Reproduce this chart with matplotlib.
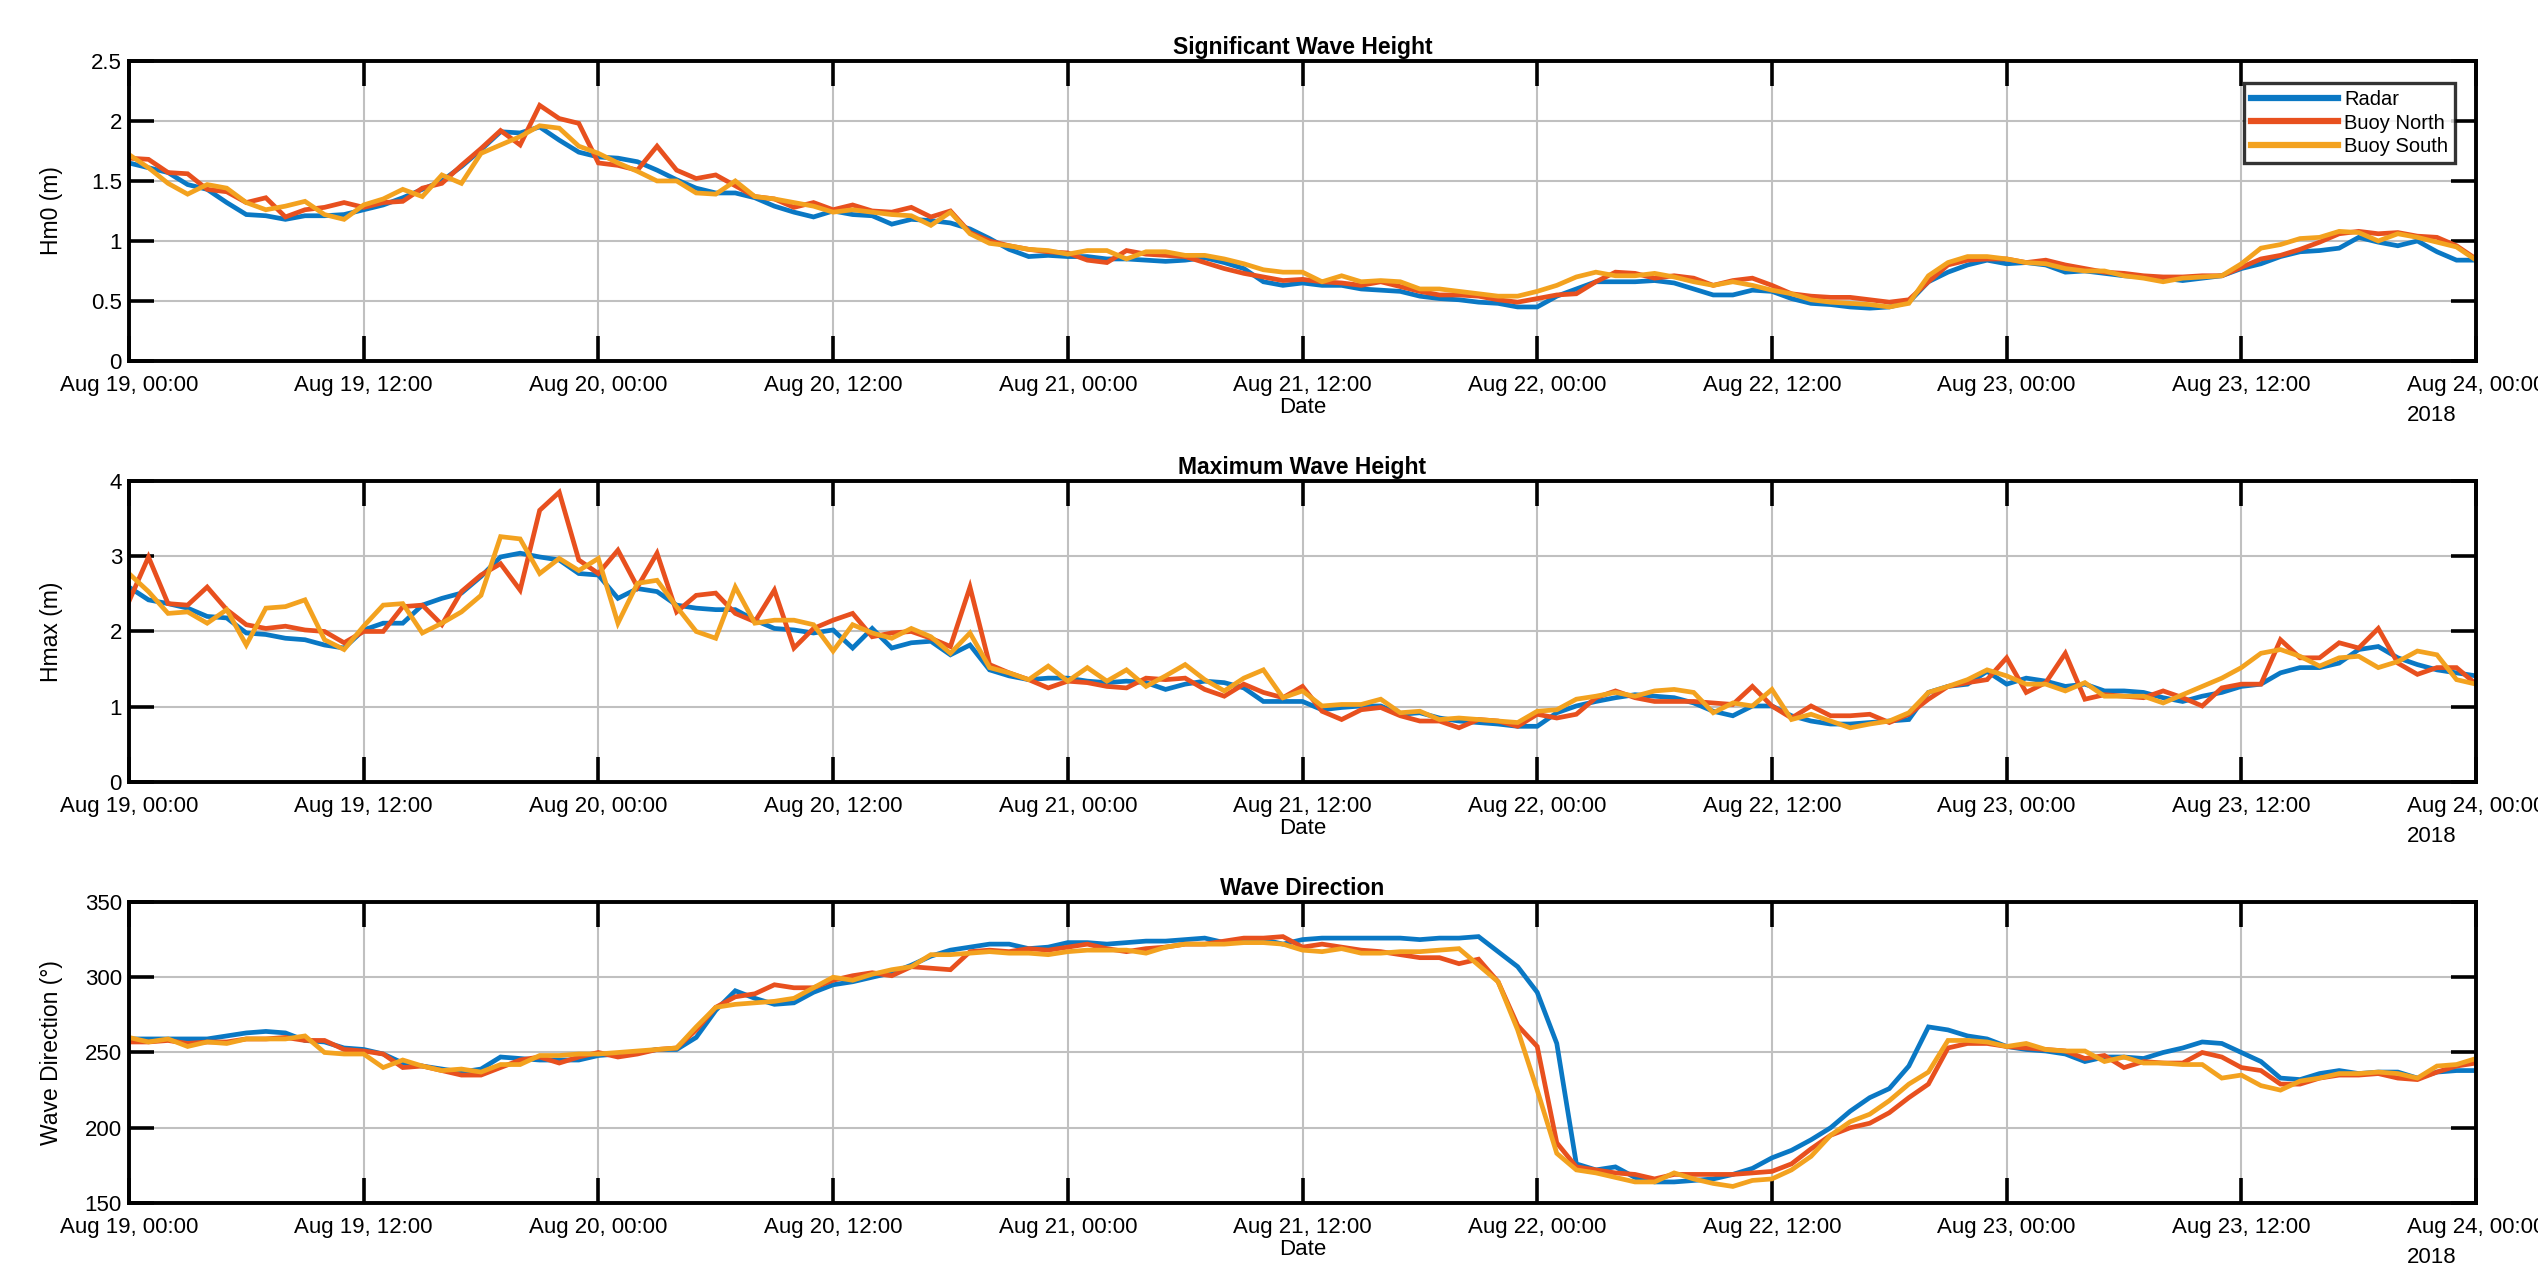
import matplotlib
matplotlib.use('Agg')
import matplotlib.pyplot as plt
import matplotlib.dates as mdates
import pandas as pd

plt.rcParams['font.family'] = ['Liberation Sans', 'DejaVu Sans']

# hourly samples, Aug 19 00:00 -> Aug 24 00:00 2018
times = pd.date_range('2018-08-19 00:00', '2018-08-24 00:00', freq='h')

series_names = ['Radar', 'Buoy North', 'Buoy South']
colors = ['#0a78c4', '#e8501e', '#f3a21f']

hm0_radar = [1.65, 1.61, 1.57, 1.47, 1.43, 1.32, 1.22, 1.21, 1.18, 1.21, 1.21,
             1.22, 1.26, 1.30, 1.36, 1.43, 1.50, 1.62, 1.76, 1.91, 1.90,
             1.95, 1.84, 1.74, 1.70, 1.69, 1.66, 1.59, 1.51, 1.44, 1.40,
             1.40, 1.36, 1.29, 1.24, 1.20, 1.25, 1.22, 1.21, 1.14, 1.18,
             1.17, 1.15, 1.10, 1.02, 0.93, 0.87, 0.88, 0.87, 0.87, 0.85,
             0.85, 0.84, 0.83, 0.84, 0.86, 0.82, 0.77, 0.66, 0.63, 0.65,
             0.63, 0.63, 0.60, 0.59, 0.58, 0.54, 0.52, 0.51, 0.49, 0.48,
             0.45, 0.45, 0.54, 0.60, 0.66, 0.66, 0.66, 0.67, 0.65, 0.60,
             0.55, 0.55, 0.59, 0.58, 0.52, 0.48, 0.47, 0.45, 0.44, 0.45,
             0.49, 0.66, 0.74, 0.80, 0.84, 0.81, 0.82, 0.80, 0.74, 0.75,
             0.73, 0.71, 0.70, 0.69, 0.67, 0.69, 0.71, 0.77, 0.81, 0.87,
             0.91, 0.92, 0.94, 1.03, 0.99, 0.96, 1.00, 0.91, 0.84, 0.84]
hm0_north = [1.69, 1.68, 1.57, 1.56, 1.43, 1.41, 1.32, 1.36, 1.20, 1.26, 1.28,
             1.32, 1.28, 1.32, 1.33, 1.44, 1.48, 1.63, 1.77, 1.92, 1.80,
             2.13, 2.02, 1.98, 1.65, 1.63, 1.59, 1.79, 1.59, 1.52, 1.55,
             1.46, 1.37, 1.35, 1.28, 1.32, 1.26, 1.30, 1.25, 1.24, 1.28,
             1.20, 1.25, 1.07, 1.00, 0.96, 0.93, 0.91, 0.90, 0.84, 0.82,
             0.92, 0.89, 0.88, 0.87, 0.82, 0.77, 0.73, 0.70, 0.67, 0.68,
             0.66, 0.65, 0.63, 0.66, 0.62, 0.58, 0.55, 0.55, 0.54, 0.51,
             0.49, 0.52, 0.55, 0.56, 0.66, 0.74, 0.73, 0.69, 0.71, 0.69,
             0.63, 0.67, 0.69, 0.63, 0.56, 0.54, 0.53, 0.53, 0.51, 0.49,
             0.51, 0.66, 0.80, 0.84, 0.85, 0.85, 0.82, 0.84, 0.80, 0.77,
             0.74, 0.73, 0.71, 0.70, 0.70, 0.71, 0.71, 0.78, 0.85, 0.88,
             0.93, 0.99, 1.06, 1.08, 1.06, 1.07, 1.04, 1.03, 0.96, 0.85]
hm0_south = [1.72, 1.61, 1.48, 1.39, 1.47, 1.44, 1.32, 1.26, 1.29, 1.33, 1.22,
             1.18, 1.30, 1.35, 1.43, 1.37, 1.55, 1.48, 1.73, 1.80, 1.87,
             1.96, 1.94, 1.79, 1.73, 1.65, 1.58, 1.50, 1.50, 1.40, 1.39,
             1.50, 1.37, 1.35, 1.32, 1.29, 1.24, 1.26, 1.24, 1.22, 1.21,
             1.13, 1.24, 1.06, 0.98, 0.96, 0.93, 0.92, 0.89, 0.92, 0.92,
             0.85, 0.91, 0.91, 0.88, 0.88, 0.85, 0.81, 0.76, 0.74, 0.74,
             0.66, 0.71, 0.66, 0.67, 0.66, 0.60, 0.60, 0.58, 0.56, 0.54,
             0.54, 0.58, 0.63, 0.70, 0.74, 0.71, 0.71, 0.73, 0.70, 0.66,
             0.63, 0.66, 0.63, 0.59, 0.56, 0.51, 0.49, 0.48, 0.47, 0.45,
             0.48, 0.71, 0.82, 0.87, 0.87, 0.85, 0.82, 0.81, 0.77, 0.75,
             0.75, 0.71, 0.69, 0.66, 0.69, 0.70, 0.71, 0.81, 0.94, 0.97,
             1.02, 1.03, 1.08, 1.07, 1.00, 1.06, 1.03, 0.99, 0.95, 0.84]

hmax_radar = [2.59, 2.42, 2.37, 2.31, 2.20, 2.18, 1.98, 1.96, 1.91, 1.89, 1.82,
              1.78, 2.02, 2.11, 2.11, 2.35, 2.44, 2.51, 2.73, 2.99, 3.04,
              2.99, 2.95, 2.77, 2.75, 2.44, 2.57, 2.53, 2.35, 2.31, 2.29,
              2.29, 2.15, 2.04, 2.02, 1.98, 2.02, 1.78, 2.04, 1.78, 1.85,
              1.87, 1.69, 1.82, 1.49, 1.41, 1.36, 1.38, 1.38, 1.34, 1.32,
              1.34, 1.32, 1.23, 1.30, 1.34, 1.32, 1.25, 1.07, 1.07, 1.07,
              0.96, 0.99, 1.01, 1.01, 0.90, 0.92, 0.85, 0.81, 0.79, 0.77,
              0.74, 0.74, 0.92, 1.01, 1.07, 1.12, 1.16, 1.14, 1.12, 1.05,
              0.94, 0.88, 1.01, 1.01, 0.88, 0.81, 0.77, 0.77, 0.79, 0.81,
              0.83, 1.19, 1.27, 1.30, 1.47, 1.30, 1.38, 1.34, 1.27, 1.30,
              1.21, 1.21, 1.19, 1.12, 1.07, 1.14, 1.19, 1.27, 1.30, 1.45,
              1.52, 1.52, 1.58, 1.76, 1.80, 1.65, 1.56, 1.49, 1.45, 1.41]
hmax_north = [2.40, 2.99, 2.37, 2.35, 2.59, 2.29, 2.09, 2.04, 2.07, 2.02, 2.00,
              1.85, 2.00, 2.00, 2.33, 2.35, 2.09, 2.53, 2.75, 2.90, 2.55,
              3.61, 3.85, 2.95, 2.77, 3.08, 2.59, 3.04, 2.26, 2.48, 2.51,
              2.24, 2.13, 2.55, 1.78, 2.04, 2.15, 2.24, 1.93, 1.98, 2.00,
              1.91, 1.80, 2.59, 1.56, 1.45, 1.36, 1.25, 1.34, 1.32, 1.27,
              1.25, 1.38, 1.36, 1.38, 1.23, 1.14, 1.30, 1.19, 1.12, 1.27,
              0.94, 0.83, 0.96, 0.99, 0.88, 0.81, 0.81, 0.72, 0.83, 0.81,
              0.74, 0.90, 0.85, 0.90, 1.12, 1.21, 1.12, 1.07, 1.07, 1.07,
              1.05, 1.03, 1.27, 1.01, 0.85, 1.01, 0.88, 0.88, 0.90, 0.79,
              0.90, 1.10, 1.27, 1.32, 1.36, 1.65, 1.19, 1.32, 1.71, 1.10,
              1.16, 1.14, 1.12, 1.21, 1.12, 1.01, 1.25, 1.30, 1.30, 1.89,
              1.65, 1.65, 1.85, 1.78, 2.04, 1.58, 1.43, 1.52, 1.52, 1.30]
hmax_south = [2.77, 2.53, 2.24, 2.26, 2.11, 2.29, 1.82, 2.31, 2.33, 2.42, 1.89,
              1.76, 2.07, 2.35, 2.37, 1.98, 2.11, 2.26, 2.48, 3.26, 3.23,
              2.77, 2.97, 2.81, 2.97, 2.11, 2.64, 2.68, 2.33, 2.00, 1.91,
              2.59, 2.11, 2.15, 2.15, 2.09, 1.74, 2.09, 1.98, 1.91, 2.04,
              1.93, 1.71, 1.98, 1.52, 1.45, 1.36, 1.54, 1.34, 1.52, 1.34,
              1.49, 1.27, 1.41, 1.56, 1.36, 1.21, 1.38, 1.49, 1.12, 1.21,
              1.01, 1.03, 1.03, 1.10, 0.92, 0.94, 0.83, 0.85, 0.83, 0.81,
              0.79, 0.94, 0.96, 1.10, 1.14, 1.19, 1.14, 1.21, 1.23, 1.19,
              0.92, 1.05, 1.01, 1.23, 0.83, 0.90, 0.81, 0.72, 0.77, 0.81,
              0.92, 1.19, 1.27, 1.36, 1.49, 1.41, 1.30, 1.30, 1.21, 1.32,
              1.14, 1.14, 1.14, 1.05, 1.16, 1.27, 1.38, 1.52, 1.71, 1.76,
              1.67, 1.54, 1.65, 1.67, 1.52, 1.60, 1.74, 1.69, 1.36, 1.30]

dir_radar = [259, 259, 259, 259, 259, 261, 263, 264, 263, 258, 257,
             253, 252, 249, 243, 241, 239, 237, 239, 247, 246,
             245, 245, 245, 248, 249, 250, 252, 252, 260, 278,
             291, 286, 282, 283, 290, 295, 297, 300, 303, 308,
             314, 318, 320, 322, 322, 319, 320, 323, 323, 322,
             323, 324, 324, 325, 326, 323, 325, 325, 322, 325,
             326, 326, 326, 326, 326, 325, 326, 326, 327, 317,
             307, 290, 256, 176, 172, 174, 167, 164, 164, 165,
             166, 169, 173, 180, 185, 192, 200, 211, 220, 226,
             241, 267, 265, 261, 259, 254, 252, 251, 249, 244,
             247, 247, 246, 250, 253, 257, 256, 250, 244, 233,
             232, 236, 238, 236, 237, 237, 233, 237, 238, 238]
dir_north = [257, 257, 258, 256, 257, 257, 259, 259, 260, 258, 258,
             252, 251, 249, 240, 241, 238, 235, 235, 240, 245,
             247, 243, 247, 250, 247, 249, 252, 253, 265, 280,
             287, 289, 295, 293, 293, 298, 301, 303, 301, 307,
             306, 305, 317, 318, 317, 319, 318, 320, 322, 319,
             317, 319, 320, 322, 322, 324, 326, 326, 327, 320,
             322, 320, 318, 317, 315, 313, 313, 309, 312, 297,
             268, 254, 190, 174, 172, 170, 169, 166, 169, 169,
             169, 169, 170, 171, 176, 186, 195, 200, 203, 210,
             220, 229, 253, 256, 256, 254, 253, 252, 251, 246,
             248, 240, 244, 243, 243, 250, 247, 240, 238, 229,
             229, 233, 235, 235, 236, 233, 232, 237, 241, 243]
dir_south = [260, 257, 259, 254, 257, 256, 259, 259, 259, 261, 250,
             249, 249, 240, 245, 241, 238, 239, 237, 242, 242,
             248, 248, 249, 249, 250, 251, 252, 253, 267, 280,
             282, 283, 284, 286, 293, 300, 298, 302, 305, 307,
             315, 315, 316, 317, 316, 316, 315, 317, 318, 318,
             318, 316, 320, 322, 322, 322, 323, 323, 322, 318,
             317, 319, 316, 316, 317, 317, 318, 319, 308, 297,
             265, 225, 183, 172, 170, 167, 164, 164, 170, 166,
             163, 161, 165, 166, 172, 181, 195, 204, 209, 218,
             229, 237, 258, 258, 257, 254, 256, 252, 251, 251,
             244, 247, 243, 243, 242, 242, 233, 235, 228, 225,
             231, 233, 236, 236, 237, 236, 233, 241, 242, 246]

panels = [
    ('Significant Wave Height', 'Hm0 (m)', (hm0_radar, hm0_north, hm0_south),
     (0, 2.5), [0, 0.5, 1, 1.5, 2, 2.5], ['0', '0.5', '1', '1.5', '2', '2.5']),
    ('Maximum Wave Height', 'Hmax (m)', (hmax_radar, hmax_north, hmax_south),
     (0, 4), [0, 1, 2, 3, 4], ['0', '1', '2', '3', '4']),
    ('Wave Direction', 'Wave Direction (°)', (dir_radar, dir_north, dir_south),
     (150, 350), [150, 200, 250, 300, 350], ['150', '200', '250', '300', '350']),
]

# axes boxes in figure fractions (left, bottom, width, height)
boxes = [(0.0508, 0.7151, 0.9248, 0.2368),
         (0.0508, 0.3828, 0.9248, 0.2376),
         (0.0508, 0.0505, 0.9248, 0.2376)]

fig = plt.figure(figsize=(25.38, 12.67), dpi=100)

xticks = pd.date_range('2018-08-19 00:00', '2018-08-24 00:00', freq='12h')

for k, (title, ylab, data, ylim, yt, ytl) in enumerate(panels):
    ax = fig.add_axes(boxes[k])
    for vals, name, col in zip(data, series_names, colors):
        ax.plot(times, vals, color=col, lw=3.4, label=name, solid_joinstyle='miter')
    ax.set_xlim(times[0], times[-1])
    ax.set_ylim(*ylim)
    ax.set_yticks(yt)
    ax.set_yticklabels(ytl)
    ax.set_xticks(xticks)
    ax.xaxis.set_major_formatter(mdates.DateFormatter('%b %d, %H:%M'))
    ax.grid(True, color='#c0c0c0', lw=1.5)
    ax.set_axisbelow(True)
    for s in ax.spines.values():
        s.set_linewidth(2.8)
    ax.tick_params(direction='in', length=18, width=2.6, top=True, right=True,
                   labelsize=16, colors='black')
    ax.tick_params(axis='x', pad=10)
    ax.tick_params(axis='y', pad=5)
    ax.set_title(title, fontsize=16.5, fontweight='bold', pad=5)
    ax.set_xlabel('Date', fontsize=16, labelpad=1)
    ax.set_ylabel(ylab, fontsize=16.5)
    ax.yaxis.set_label_coords(-0.028, 0.5)
    ax.annotate('2018', xy=(1, 0), xycoords='axes fraction', xytext=(-50, -39),
                textcoords='offset points', ha='left', va='center', fontsize=16)
    if k == 0:
        leg = ax.legend(loc='upper right', bbox_to_anchor=(0.991, 0.925),
                        fontsize=14.5, frameon=True, fancybox=False,
                        edgecolor='black', handlelength=4.3, handletextpad=0.3,
                        labelspacing=0.2, borderpad=0.35, borderaxespad=0)
        leg.get_frame().set_linewidth(2.4)
        for line in leg.get_lines():
            line.set_linewidth(4.5)

fig.savefig('out.png', dpi=100, facecolor='white')
